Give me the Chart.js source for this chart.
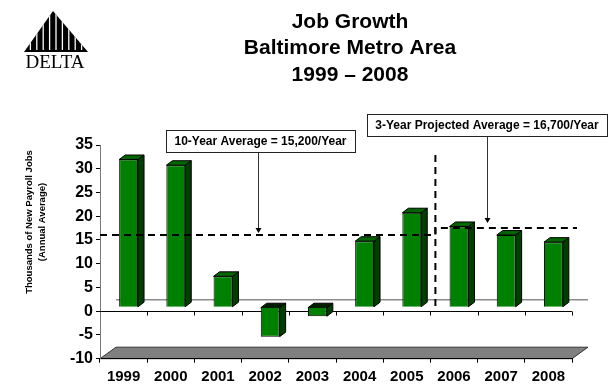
<!DOCTYPE html>
<html>
<head>
<meta charset="utf-8">
<script src="https://cdn.jsdelivr.net/npm/chart.js@4.4.0/dist/chart.umd.min.js"></script>
<style>
  html, body { margin: 0; padding: 0; background: #fff; }
  #wrap { width: 611px; height: 385px; }
</style>
</head>
<body>
<div id="wrap"><canvas id="jobs" width="611" height="385"></canvas></div>
<script>
const years = ['1999', '2000', '2001', '2002', '2003', '2004', '2005', '2006', '2007', '2008'];
const jobsAdded = [31.1, 29.9, 6.5, -6.2, -1.9, 13.9, 19.9, 17.0, 15.2, 13.7];
const valueMin = -10;
const valueMax = 35;
const valueStep = 5;
const tenYearAverage = 15.2;
const projectedAverage = 16.7;
const firstProjectedYear = '2006';

const titleLines = ['Job Growth', 'Baltimore Metro Area', '1999 – 2008'];
const axisTitleLines = ['Thousands of New Payroll Jobs', '(Annual Average)'];
const tenYearNote = '10-Year Average = 15,200/Year';
const projectedNote = '3-Year Projected Average = 16,700/Year';

const FONT = "'Liberation Sans', Arial, sans-serif";
const wall = { dx: 16, dy: -11.5 };   // floor / back wall depth
const shift = { dx: 5, dy: -4 };      // bars stand part way back on the floor
const depth = { dx: 6, dy: -4.5 };    // bar thickness

function poly(ctx, pts, fill) {
  ctx.beginPath();
  ctx.moveTo(pts[0][0], pts[0][1]);
  for (let i = 1; i < pts.length; i++) ctx.lineTo(pts[i][0], pts[i][1]);
  ctx.closePath();
  ctx.fillStyle = fill;
  ctx.fill();
  ctx.stroke();
}

function catEdge(chart, i) {
  const a = chart.chartArea;
  return a.left + i * a.width / years.length;
}

const columns3d = {
  id: 'columns3d',
  beforeDraw(chart) {
    const { ctx, chartArea: a, scales: { y } } = chart;
    const y0 = y.getPixelForValue(0);
    ctx.save();
    ctx.strokeStyle = '#333';
    ctx.lineWidth = 1;
    poly(ctx, [[a.left, a.bottom], [a.right, a.bottom],
      [a.right + wall.dx, a.bottom + wall.dy], [a.left + wall.dx, a.bottom + wall.dy]], '#808080');
    // zero line on the back wall
    ctx.strokeStyle = '#8c8c8c';
    ctx.lineWidth = 1.5;
    ctx.beginPath();
    ctx.moveTo(a.left + wall.dx, y0 + wall.dy);
    ctx.lineTo(a.right + wall.dx, y0 + wall.dy);
    ctx.stroke();
    ctx.restore();
  },
  beforeDatasetsDraw(chart) {
    const { ctx, chartArea: a, scales: { y } } = chart;
    const y0 = Math.round(y.getPixelForValue(0)) + 0.5;
    ctx.save();
    ctx.strokeStyle = '#000';
    ctx.lineWidth = 1;
    ctx.beginPath();
    ctx.moveTo(a.left, y0);
    ctx.lineTo(a.right, y0);
    for (let i = 1; i <= years.length; i++) {
      const gx = Math.round(catEdge(chart, i)) + 0.5;
      ctx.moveTo(gx, y0);
      ctx.lineTo(gx, y0 + 4);
    }
    ctx.stroke();

    ctx.translate(shift.dx, shift.dy);
    ctx.strokeStyle = '#000';
    chart.getDatasetMeta(0).data.forEach((bar, i) => {
      const { x, y: vy, base, width } = bar.getProps(['x', 'y', 'base', 'width'], true);
      const l = x - width / 2, r = x + width / 2;
      const top = Math.min(vy, base), bottom = Math.max(vy, base);
      poly(ctx, [[r, top], [r + depth.dx, top + depth.dy], [r + depth.dx, bottom + depth.dy], [r, bottom]], '#003f00');
      poly(ctx, [[l, top], [l + depth.dx, top + depth.dy], [r + depth.dx, top + depth.dy], [r, top]],
        jobsAdded[i] < 0 ? '#001f00' : '#006400');
    });
  },
  afterDatasetsDraw(chart) {
    chart.ctx.restore();
  }
};

function note(ctx, text, x, y, w, h, ax, tipY) {
  ctx.fillStyle = '#fff';
  ctx.strokeStyle = '#222';
  ctx.lineWidth = 1;
  ctx.fillRect(x, y, w, h);
  ctx.strokeRect(x + 0.5, y + 0.5, w, h);
  ctx.fillStyle = '#000';
  ctx.font = 'bold 12px ' + FONT;
  ctx.textAlign = 'center';
  ctx.textBaseline = 'middle';
  ctx.fillText(text, x + w / 2, y + h / 2 + 1);
  ctx.strokeStyle = '#333';
  ctx.beginPath();
  ctx.moveTo(ax + 0.5, y + h + 1);
  ctx.lineTo(ax + 0.5, tipY - 4);
  ctx.stroke();
  ctx.fillStyle = '#000';
  ctx.beginPath();
  ctx.moveTo(ax - 2.5, tipY - 5);
  ctx.lineTo(ax + 3.5, tipY - 5);
  ctx.lineTo(ax + 0.5, tipY);
  ctx.closePath();
  ctx.fill();
}

const decorations = {
  id: 'decorations',
  afterDraw(chart) {
    const { ctx, chartArea: a, scales: { y } } = chart;
    ctx.save();

    // average lines
    const ya = y.getPixelForValue(tenYearAverage) + shift.dy;
    const yp = y.getPixelForValue(projectedAverage) + shift.dy;
    const split = catEdge(chart, years.indexOf(firstProjectedYear)) + shift.dx;
    ctx.strokeStyle = '#000';
    ctx.lineWidth = 2;
    ctx.setLineDash([7, 5]);
    ctx.beginPath();
    ctx.moveTo(a.left, ya);
    ctx.lineTo(split, ya);
    ctx.lineTo(split, yp);
    ctx.lineTo(a.right + shift.dx, yp);
    ctx.stroke();
    ctx.beginPath();
    ctx.moveTo(split, a.top + 10);
    ctx.lineTo(split, y.getPixelForValue(0) + shift.dy);
    ctx.stroke();
    ctx.setLineDash([]);

    note(ctx, tenYearNote, 166, 130, 189, 22, 258, ya - 2);
    note(ctx, projectedNote, 367, 114, 240, 22, 487, yp - 5);

    // heading
    ctx.fillStyle = '#000';
    ctx.textAlign = 'center';
    ctx.textBaseline = 'middle';
    ctx.font = 'bold 21px ' + FONT;
    [22, 48, 75].forEach((ty, i) => ctx.fillText(titleLines[i], 350, ty));

    // value axis title
    ctx.font = 'bold 9.5px ' + FONT;
    [29, 42].forEach((tx, i) => {
      ctx.save();
      ctx.translate(tx, 222);
      ctx.rotate(-Math.PI / 2);
      ctx.fillText(axisTitleLines[i], 0, 0);
      ctx.restore();
    });

    // logo
    ctx.save();
    ctx.beginPath();
    ctx.moveTo(53, 11);
    ctx.lineTo(88, 52);
    ctx.lineTo(24, 52);
    ctx.closePath();
    ctx.fillStyle = '#000';
    ctx.fill();
    ctx.clip();
    ctx.strokeStyle = '#fff';
    ctx.lineWidth = 1.3;
    ctx.beginPath();
    for (let k = 1; k < 10; k++) {
      const sx = 24 + k * 6.4;
      ctx.moveTo(sx, 8);
      ctx.lineTo(sx, 50);
    }
    ctx.stroke();
    ctx.restore();
    ctx.fillStyle = '#000';
    ctx.font = "19px 'Liberation Serif', 'Times New Roman', serif";
    ctx.textAlign = 'center';
    ctx.textBaseline = 'alphabetic';
    ctx.fillText('DELTA', 55, 68);

    ctx.restore();
  }
};

new Chart(document.getElementById('jobs'), {
  type: 'bar',
  data: {
    labels: years,
    datasets: [{
      data: jobsAdded,
      backgroundColor: '#008000',
      borderColor: '#000',
      borderWidth: 1,
      barPercentage: 0.4,
      categoryPercentage: 1
    }]
  },
  options: {
    responsive: false,
    animation: false,
    devicePixelRatio: 1,
    layout: { padding: { top: 145, right: 39, bottom: 0, left: 0 } },
    plugins: { legend: { display: false }, tooltip: { enabled: false } },
    scales: {
      x: {
        grid: { drawOnChartArea: false, tickLength: 4, color: '#000', offset: true },
        border: { color: '#000' },
        ticks: { color: '#000', padding: 5, font: { family: FONT, size: 15, weight: 'bold' } },
        afterFit(s) { s.height = 26.3; }
      },
      y: {
        min: valueMin,
        max: valueMax,
        grid: { drawOnChartArea: false, tickLength: 4, color: '#000' },
        border: { color: '#777' },
        ticks: { stepSize: valueStep, color: '#000', padding: 3, font: { family: FONT, size: 16, weight: 'bold' } },
        afterFit(s) { s.width = 100; }
      }
    }
  },
  plugins: [columns3d, decorations]
});
</script>
</body>
</html>
